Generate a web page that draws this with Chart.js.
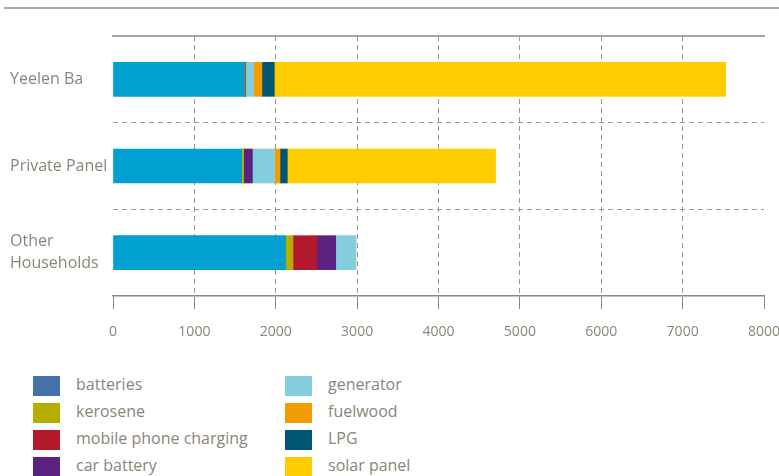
<!DOCTYPE html>
<html>
<head>
<meta charset="utf-8">
<script src="https://cdn.jsdelivr.net/npm/chart.js@4/dist/chart.umd.min.js"></script>
<style>
  body { margin: 0; background: #fff; width: 779px; height: 476px; position: relative; overflow: hidden; font-family: "Open Sans", sans-serif; }
  #linha-topo { position: absolute; left: 4px; right: 0; top: 7px; height: 2px; background: #aaa69c; }
  #caixa { position: absolute; left: 0; top: 0; width: 779px; height: 350px; }
  #legenda { position: absolute; left: 0; top: 0; }
  .item { position: absolute; height: 20px; font-size: 16px; color: #8a8578; white-space: nowrap; }
  .item span { position: absolute; top: 0; width: 27px; height: 20px; }
  .item b { position: absolute; font-weight: normal; top: -2px; line-height: 20px; }
</style>
</head>
<body>
<div id="linha-topo"></div>
<div id="caixa"><canvas id="grafico"></canvas></div>
<div id="legenda"></div>
<script>
// categorias
const categorias = ['Yeelen Ba', 'Private Panel', ['Other', 'Households']];

// séries
const outros      = [1610, 1581, 2117];
const baterias    = [0, 0, 0];
const querosene   = [12, 25, 95];
const celular     = [0, 0, 295];
const bateriaCarro = [8, 107, 230];
const gerador     = [98, 274, 246];
const lenha       = [102, 65, 0];
const glp         = [152, 90, 0];
const solar       = [5545, 2559, 0];

const ticksX = [0, 1000, 2000, 3000, 4000, 5000, 6000, 7000, 8000];

const cinza = '#8a8578';
const tracejado = [5, 4];
const transparente = 'rgba(0,0,0,0)';

const series = [
    { label: 'other', data: outros, cor: '#00a0d1', legenda: false },
    { label: 'batteries', data: baterias, cor: '#4472a8' },
    { label: 'kerosene', data: querosene, cor: '#b5ad00' },
    { label: 'mobile phone charging', data: celular, cor: '#b5192d' },
    { label: 'car battery', data: bateriaCarro, cor: '#5b2282' },
    { label: 'generator', data: gerador, cor: '#84cddc' },
    { label: 'fuelwood', data: lenha, cor: '#f39c00' },
    { label: 'LPG', data: glp, cor: '#005671' },
    { label: 'solar panel', data: solar, cor: '#ffcc00' }
];

// tira o espaço extra que o chart reserva para os rótulos das pontas
function semPadding(s) {
    s.paddingLeft = 0;
    s.paddingRight = 0;
}

const ctx = document.getElementById('grafico').getContext('2d');

new Chart(ctx, {
    type: 'bar',
    data: {
        labels: categorias,
        datasets: series.map(s => ({
            label: s.label,
            data: s.data,
            backgroundColor: s.cor,
            borderWidth: 0,
            barThickness: 34
        }))
    },
    options: {
        indexAxis: 'y',
        responsive: true,
        maintainAspectRatio: false,
        animation: false,
        layout: { padding: { left: 10, right: 15, top: 36, bottom: 0 } },
        plugins: {
            legend: { display: false },
            tooltip: { enabled: false }
        },
        scales: {
            x: {
                stacked: true,
                min: 0,
                max: 8000,
                afterBuildTicks: s => { s.ticks = ticksX.map(v => ({ value: v })); },
                afterFit: s => { s.height = 54; semPadding(s); },
                ticks: {
                    color: cinza,
                    padding: 15,
                    font: { family: 'Open Sans', size: 14 },
                    callback: v => String(v)
                },
                grid: {
                    color: c => (c.index === 0 || c.index === ticksX.length - 1) ? transparente : '#9a968b',
                    tickColor: cinza,
                    tickLength: 13,
                    tickBorderDash: [0, 0],
                    lineWidth: 1
                },
                border: {
                    display: true, color: cinza, width: 1.5,
                    dash: c => c.type === 'tick' ? tracejado : []
                }
            },
            x2: {
                position: 'top',
                min: 0,
                max: 8000,
                afterFit: s => { s.height = 0; semPadding(s); },
                ticks: { display: false },
                grid: { display: true, drawOnChartArea: false, drawTicks: false },
                border: { display: true, color: '#aaa69c', width: 2 }
            },
            y: {
                stacked: true,
                afterFit: s => { s.width = 103; },
                ticks: {
                    color: cinza,
                    crossAlign: 'far',
                    font: { family: 'Open Sans', size: 16, lineHeight: 1.4 }
                },
                grid: {
                    offset: true,
                    drawTicks: false,
                    // só as linhas entre as categorias
                    color: c => (c.type !== 'tick' || c.index === 0) ? transparente : '#9a968b'
                },
                border: { display: false, dash: tracejado }
            }
        }
    }
});

// legenda em duas colunas
const legenda = document.getElementById('legenda');
series.filter(s => s.legenda !== false).forEach((s, i) => {
    const col = Math.floor(i / 4);
    const lin = i % 4;
    const el = document.createElement('div');
    el.className = 'item';
    el.style.left = (33 + col * 252) + 'px';
    el.style.top = (376 + lin * 27) + 'px';
    el.innerHTML = '<span style="left:0;background:' + s.cor + '"></span><b style="left:43px">' + s.label + '</b>';
    legenda.appendChild(el);
});
</script>
</body>
</html>
